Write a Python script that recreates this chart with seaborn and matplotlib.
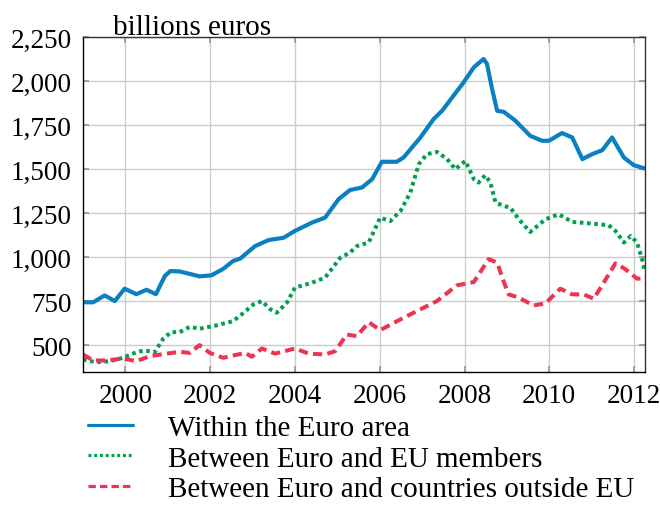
import numpy as np
import pandas as pd
import seaborn as sns
import matplotlib.pyplot as plt
from matplotlib.ticker import FuncFormatter

# values (billions of euros)
x_within = [1999.0, 1999.24, 1999.51, 1999.75, 1999.98, 2000.26, 2000.5, 2000.72, 2000.93, 2001.06,
            2001.28, 2001.75, 2002.03, 2002.31, 2002.54, 2002.71, 2003.06, 2003.38, 2003.73, 2004.0,
            2004.4, 2004.71, 2005.03, 2005.3, 2005.58, 2005.82, 2006.05, 2006.4, 2006.56, 2006.96,
            2007.27, 2007.47, 2007.98, 2008.22, 2008.45, 2008.53, 2008.65, 2008.77, 2008.92, 2009.2,
            2009.55, 2009.83, 2009.99, 2010.3, 2010.54, 2010.78, 2011.01, 2011.25, 2011.48, 2011.76,
            2011.99, 2012.25]
within = [745, 745, 784, 752, 822, 791, 816, 791, 894, 922,
          920, 892, 898, 935, 979, 993, 1064, 1098, 1111, 1150,
          1197, 1225, 1330, 1382, 1396, 1443, 1542, 1542, 1566, 1680,
          1784, 1831, 1993, 2078, 2125, 2097, 1955, 1831, 1826, 1775,
          1689, 1661, 1661, 1705, 1680, 1557, 1585, 1608, 1680, 1566,
          1523, 1504]

x_eu = [1999.0, 1999.31, 1999.63, 1999.94, 2000.26, 2000.45, 2000.69, 2000.89, 2001.08, 2001.28,
        2001.52, 2001.75, 2002.15, 2002.54, 2002.74, 2003.02, 2003.22, 2003.42, 2003.57, 2003.81,
        2004.0, 2004.4, 2004.71, 2005.07, 2005.3, 2005.46, 2005.74, 2006.01, 2006.25, 2006.49,
        2006.72, 2006.92, 2007.11, 2007.35, 2007.59, 2007.78, 2008.02, 2008.22, 2008.33, 2008.49,
        2008.61, 2008.73, 2008.92, 2009.08, 2009.28, 2009.55, 2009.91, 2010.22, 2010.54, 2010.93,
        2011.4, 2011.56, 2011.76, 2011.92, 2012.07, 2012.19, 2012.25]
eu_members = [420, 405, 411, 430, 462, 472, 462, 538, 576, 576,
              606, 595, 614, 638, 676, 733, 752, 705, 686, 743,
              828, 856, 885, 998, 1027, 1064, 1084, 1225, 1206, 1263,
              1367, 1528, 1585, 1598, 1557, 1500, 1547, 1443, 1424, 1466,
              1424, 1311, 1292, 1282, 1216, 1144, 1216, 1244, 1201, 1193,
              1182, 1150, 1084, 1121, 1084, 989, 922]

x_out = [1999.0, 1999.24, 1999.55, 1999.94, 2000.26, 2000.57, 2000.89, 2001.28, 2001.52, 2001.75,
         2001.99, 2002.31, 2002.54, 2002.83, 2002.98, 2003.22, 2003.53, 2004.0, 2004.32, 2004.71,
         2004.95, 2005.22, 2005.46, 2005.74, 2006.01, 2006.56, 2007.35, 2007.82, 2008.22, 2008.57,
         2008.77, 2008.92, 2009.04, 2009.28, 2009.63, 2009.91, 2010.26, 2010.54, 2010.81, 2011.05,
         2011.33, 2011.56, 2011.8, 2012.07, 2012.25]
outside_eu = [449, 415, 415, 426, 411, 439, 451, 464, 458, 502,
              458, 430, 443, 458, 436, 483, 454, 483, 454, 449,
              468, 562, 553, 632, 587, 657, 752, 841, 860, 990,
              970, 865, 790, 771, 727, 739, 822, 790, 790, 765,
              875, 966, 932, 879, 879]

labels = ['Within the Euro area', 'Between Euro and EU members', 'Between Euro and countries outside EU']
y_ticks = [500, 750, 1000, 1250, 1500, 1750, 2000, 2250]
x_ticks = [2000, 2002, 2004, 2006, 2008, 2010, 2012]

sns.set_theme(style="whitegrid")
plt.rcParams['font.family'] = ['Liberation Serif', 'DejaVu Serif']

fig = plt.figure(figsize=(6.6, 5.06), dpi=100)
ax = fig.add_axes([0.1258, 0.263, 0.851, 0.662])

blue = '#0b80c1'
green = '#00a050'
red = '#ee3452'

sns.lineplot(x=x_within, y=within, ax=ax, color=blue, linewidth=3.0, label=labels[0])
sns.lineplot(x=x_eu, y=eu_members, ax=ax, color=green, linewidth=2.9, label=labels[1])
sns.lineplot(x=x_out, y=outside_eu, ax=ax, color=red, linewidth=2.9, label=labels[2])
ax.lines[1].set_dashes([0.9, 0.9])
ax.lines[2].set_dashes([2.3, 1.3])

ax.set_xlim(1999, 2012.25)
ax.set_ylim(350, 2250)
ax.set_xticks(x_ticks)
ax.set_yticks(y_ticks)
ax.yaxis.set_major_formatter(FuncFormatter(lambda v, p: '{:,.0f}'.format(v)))
ax.set_xlabel('')
ax.set_ylabel('')
ax.grid(True, color='#cccccc', linewidth=1.0)
ax.tick_params(axis='both', labelsize=19.5, labelcolor='black', direction='in', length=4,
               color='#999999', top=True, right=True, bottom=True, left=True, pad=8)
ax.set_facecolor('white')
for side in ['left', 'bottom']:
    ax.spines[side].set_color('black')
for side in ['top', 'right']:
    ax.spines[side].set_color('#333333')
for s in ax.spines.values():
    s.set_linewidth(1.0)
    s.set_visible(True)

fig.text(113 / 660, 1 - 35 / 506, 'billions euros', fontsize=21, va='baseline', ha='left', color='black')

h, l = ax.get_legend_handles_labels()
ax.get_legend().remove()
leg = fig.legend(h, l, loc='upper left', bbox_to_anchor=(76 / 660, 1 - 404 / 506), frameon=False,
                 fontsize=21, handlelength=1.55, handletextpad=1.2, labelspacing=0.14, borderaxespad=0)
for t in leg.get_texts():
    t.set_color('black')
for ln in leg.get_lines():
    ln.set_linewidth(2.3)

fig.savefig('out.png', dpi=100)
